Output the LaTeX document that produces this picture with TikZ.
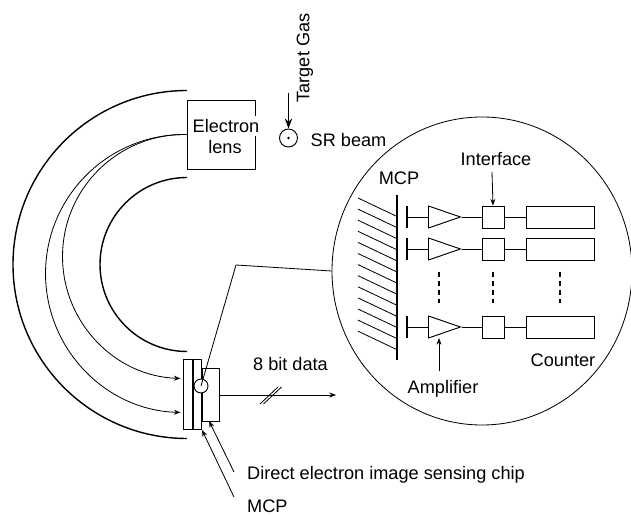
\documentclass[tikz,border=0pt]{standalone}
\usepackage{fontspec}
\setmainfont{Liberation Sans}
\usetikzlibrary{shapes.geometric, arrows.meta, positioning, calc}

\begin{document}
\begin{tikzpicture}[
    x=0.03cm, y=-0.03cm,
    label/.style={inner sep=0pt, font=\fontsize{15.5}{18}\selectfont, align=center},
    wall/.style={line width=1.2pt},
    thin line/.style={line width=0.7pt},
    arrow/.style={-{Stealth[length=2mm, width=1.5mm]}, line width=0.7pt},
    fatarrow/.style={-{Stealth[length=3mm, width=2.2mm]}, line width=1.5pt},
    plate/.style={rectangle, draw, line width=0.8pt, minimum width=0.28cm, minimum height=2.1cm, inner sep=0pt},
    ampbox/.style={isosceles triangle, isosceles triangle stretches, draw, line width=0.8pt, minimum width=0.66cm, minimum height=0.96cm, inner sep=0pt, anchor=west},
    ifbox/.style={rectangle, draw, line width=0.8pt, minimum width=0.66cm, minimum height=0.66cm, inner sep=0pt},
    countbox/.style={rectangle, draw, line width=0.8pt, minimum width=2.04cm, minimum height=0.66cm, inner sep=0pt},
    dotted bar/.style={line width=1.7pt, dash pattern=on 4.4pt off 3.2pt},
]
\useasboundingbox (0,0) rectangle (631,516);

% spectrometer
\node[rectangle, draw, line width=0.8pt, minimum width=2.04cm, minimum height=2.07cm] (lens) at (221,134.5) {};
\node[label, fill=white, inner xsep=1pt, inner ysep=3pt] (electron) at (226,126) {Electron};
\node[label] (lenstext) at (225,147) {lens};

\node[plate] (mcpa) at (188.5,394) {};
\node[plate] (mcpb) at (197,394) {};
\node[rectangle, draw, line width=0.8pt, minimum width=0.51cm, minimum height=1.59cm, inner sep=0pt] (chip) at (210.5,394.5) {};
\node[circle, draw, fill=white, line width=0.8pt, minimum size=0.42cm, inner sep=0pt] (spot) at (201,386) {};

\draw[wall] (187,90.5) arc[start angle=-90, end angle=-270, radius=174];
\draw[wall] (187,177.5) arc[start angle=-90, end angle=-270, radius=87];
\draw[arrow] (lens.west) -- ++(-2,0) arc[start angle=-90, end angle=-268.35, radius=139];
\draw[arrow] (lens.west) -- ++(-2,0) arc[start angle=-90, end angle=-268.12, radius=122];

% target gas and beam
\node[label, rotate=90] (gas) at (305,58) {Target Gas};
\node[circle, draw, line width=0.8pt, minimum size=0.54cm, inner sep=0pt] (beam) at (288.5,138) {};
\fill (beam.center) circle (1.3);
\coordinate (gastop) at (288.5,93);
\draw[fatarrow] (gastop) -- (beam.north);
\node[label, right=0.375cm of beam, yshift=-2pt] (srbeam) {SR beam};

% magnified view
\node[ellipse, draw, line width=0.7pt, minimum width=9cm, minimum height=9.24cm, inner sep=0pt] (view) at (482,271) {};
\draw[thin line] (spot.center) -- (236,265) -- (view.west);

% output
\coordinate (dataend) at (336,395);
\draw[arrow] (chip.east |- dataend) -- (dataend);
\draw[thin line] (260,404) -- (278,387);
\draw[thin line] (263.5,404) -- (281.5,387);
\node[label] (bits) at (290.5,364) {8 bit data};

\node[label, anchor=west] (chiptext) at (247,475) {Direct electron image sensing chip};
\node[label, anchor=west] (mcptext) at (247,506) {MCP};
\coordinate (chipfoot) at (234,472);
\coordinate (mcpfoot) at (234,497);
\draw[arrow] (chipfoot) -- (209,421);
\draw[arrow] (mcpfoot) -- (202,430);

% readout channels
\draw[line width=0.9pt] (397,195) -- (397,360);
\foreach \i in {0,...,12}
    \draw[thin line] (358,198+\i*11.1) -- (397,216.5+\i*11.1);

\foreach \name/\row in {a/217, b/249, c/327} {
    \coordinate (bar\name) at (407,\row);
    \draw[line width=1pt] ($(bar\name)+(0,-11)$) -- ($(bar\name)+(0,11)$);
    \node[ampbox] (amp\name) at (428,\row) {};
    \node[ifbox] (if\name) at (493,\row) {};
    \node[countbox] (count\name) at (560,\row) {};
    \draw[thin line] (bar\name) -- (amp\name.west);
    \draw[thin line] (amp\name.east) -- (if\name.west);
    \draw[thin line] (if\name.east) -- (count\name.west);
}

\foreach \x in {439, 493, 560}
    \draw[dotted bar] (\x,272) -- (\x,303);

\node[label] (mcpzoom) at (399,178) {MCP};
\node[label] (iftext) at (496,159) {Interface};
\node[label] (amptext) at (443,389) {Amplifier};
\node[label] (counttext) at (563,360) {Counter};
\draw[arrow] (492,172) -- (ifa.north);
\draw[arrow] (439,371) -- (439,338);

\end{tikzpicture}
\end{document}
